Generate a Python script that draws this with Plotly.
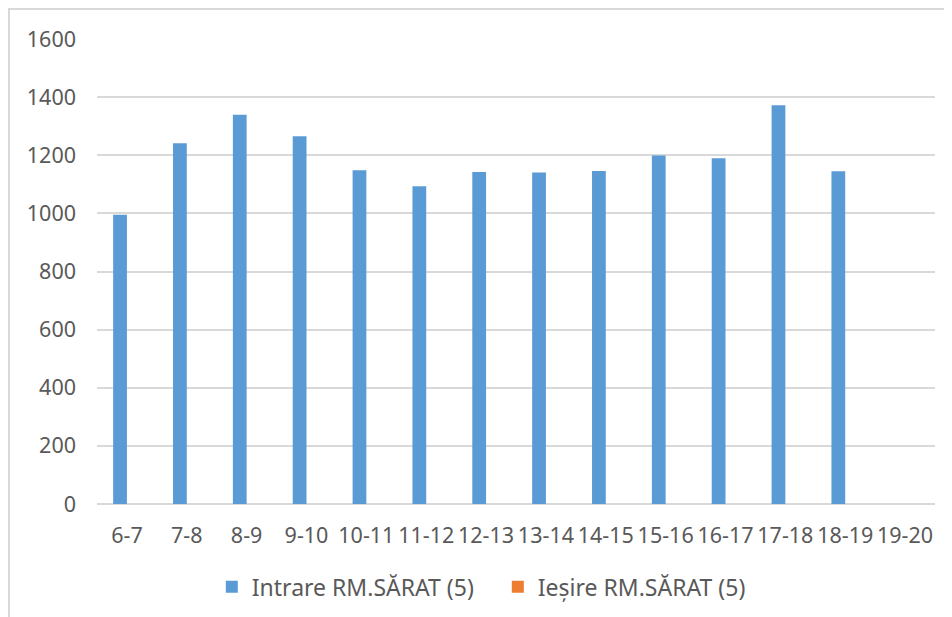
import plotly.graph_objects as go

hours = ["6-7", "7-8", "8-9", "9-10", "10-11", "11-12", "12-13",
         "13-14", "14-15", "15-16", "16-17", "17-18", "18-19", "19-20"]
intrare = [995, 1241, 1339, 1265, 1148, 1093, 1142, 1141, 1146, 1199, 1190, 1372, 1145, None]
iesire = [0, 0, 0, 0, 0, 0, 0, 0, 0, 0, 0, 0, 0, 0]

fig = go.Figure()
fig.add_bar(x=hours, y=intrare, name="Intrare RM.SĂRAT (5)",
            marker=dict(color="#5B9BD5", line=dict(width=0)))
fig.add_bar(x=hours, y=iesire, name="Ieșire RM.SĂRAT (5)",
            marker=dict(color="#ED7D31", line=dict(width=0)))

font = dict(family="Noto Sans", size=21.5, color="#595959")
legend_font = dict(family="Noto Sans", size=23, color="#595959")

# the page body adds 8px around the figure, so the figure is a bit smaller
fig.update_layout(
    width=944, height=609, autosize=False,
    margin=dict(l=89, r=17, t=31, b=113, autoexpand=False),
    paper_bgcolor="white", plot_bgcolor="white",
    barmode="group", bargap=0.54, bargroupgap=0,
    font=font,
    showlegend=True,
    legend=dict(orientation="h", x=0.137, xanchor="left", y=-0.178, yanchor="middle",
                font=legend_font, traceorder="normal", itemwidth=30,
                entrywidth=241, entrywidthmode="pixels"),
    xaxis=dict(type="category", showgrid=False, showline=False, ticks="",
               tickfont=font, tickangle=0, ticklabelstandoff=16),
    yaxis=dict(range=[0, 1600], dtick=200, showgrid=True, gridcolor="#D9D9D9", gridwidth=1.5,
               zeroline=True, zerolinecolor="#D9D9D9", zerolinewidth=1.5,
               showline=False, ticks="", tickfont=font, ticklabelstandoff=20),
    shapes=[dict(type="rect", xref="paper", yref="paper",
                 x0=-0.105, x1=1.2, y0=-0.4, y1=1.0645,
                 line=dict(color="#D9D9D9", width=2), fillcolor="rgba(0,0,0,0)", layer="below")],
)

fig.write_html("out.html")
